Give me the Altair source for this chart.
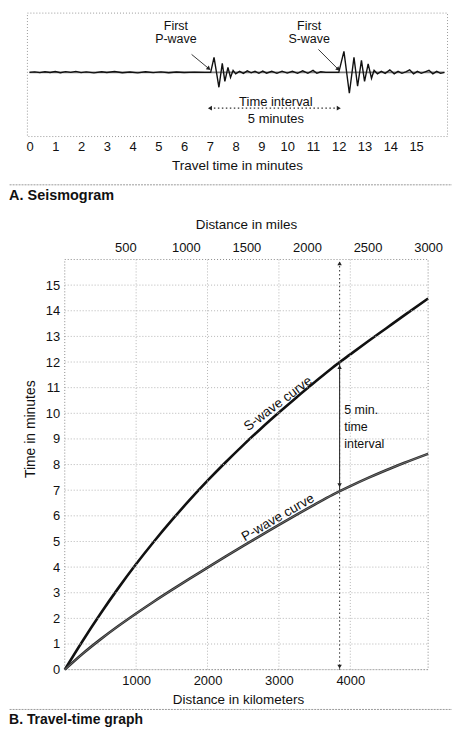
import altair as alt
import pandas as pd

FONT = "Liberation Sans"

# ---------------- Panel A: seismogram ----------------
seis_time = [0, 0.2, 0.4, 0.6, 0.8, 1.0, 1.2, 1.4, 1.6, 1.8, 2.0, 2.2, 2.5, 2.8, 3.0,
             3.3, 3.6, 3.9, 4.2, 4.5, 4.8, 5.1, 5.4, 5.7, 6.0, 6.4, 6.8, 7.03,
             7.16, 7.35, 7.48, 7.58, 7.70, 7.80, 7.90, 8.0, 8.15, 8.3, 8.45, 8.6, 8.75,
             8.9, 9.05, 9.2, 9.4, 9.6, 9.8, 10.0, 10.2, 10.4, 10.6, 10.8, 11.0, 11.15,
             11.3, 11.5, 11.8, 12.0,
             12.2, 12.41, 12.59, 12.73, 12.88, 13.0, 13.14, 13.27, 13.37, 13.5, 13.65,
             13.8, 13.98, 14.15, 14.3, 14.45, 14.6, 14.75, 14.9, 15.05, 15.2, 15.35,
             15.5, 15.65, 15.8, 15.95, 16.1]
seis_amp = [0, 0.5, -0.3, 0.6, -0.2, 0.8, -0.4, 0.7, 0, 0.9, -0.3, 0.5, -0.5, 0.6, -0.2,
            0.8, -0.4, 0.4, -0.5, 0.6, -0.3, 0.5, -0.4, 0.3, -0.2, 0.2, 0, 0,
            15, -15, 9, -9, 5, -5, 2, -1.5, 1, -1, 1.5, -0.5, 1,
            -1, 1.2, -0.8, 1, -1, 1.2, -0.8, 1, -1, 1.5, -1, 2, -1,
            0.5, 0, 0, 0,
            21, -21, 15, -14, 12, -9, 8.5, -6, 2, -1.5, 1,
            -1, 2.5, -1.5, 1, -1, 0.5, 2.5, -1.5, 1, -1, 0.5,
            2, -1.5, 1, -1, 0]
travel_ticks = list(range(0, 16))

a_labels = [["First", "P-wave"], ["First", "S-wave"]]
a_label_t = [5.68, 10.85]
a_label_amp = [43, 43]
interval_label = [["Time interval", "5 minutes"]]
interval_t = [9.56]
interval_amp = [-33.7]
pointer_t = [6.29, 11.21]
pointer_amp = [18, 23]
pointer_t2 = [6.96, 11.98]
pointer_amp2 = [3.7, 3.0]
pointer_angle = [40, 45]
p_arrival, s_arrival = 7, 12
interval_arrow_amp = -36

# ---------------- Panel B: travel-time graph ----------------
dist_km = [0, 250, 500, 750, 1000, 1250, 1500, 1750, 2000, 2250, 2500, 2750, 3000,
           3250, 3500, 3750, 4000, 4250, 4500, 4750, 5090]
s_minutes = [0, 1.12, 2.18, 3.18, 4.12, 5.00, 5.83, 6.62, 7.37, 8.08, 8.76, 9.41, 10.03,
             10.63, 11.21, 11.78, 12.30, 12.81, 13.31, 13.81, 14.48]
p_minutes = [0, 0.62, 1.18, 1.70, 2.19, 2.66, 3.11, 3.55, 3.98, 4.41, 4.83, 5.24, 5.65,
             6.05, 6.44, 6.82, 7.16, 7.48, 7.78, 8.06, 8.42]
km_ticks = [1000, 2000, 3000, 4000]
mile_ticks = [500, 1000, 1500, 2000, 2500, 3000]
minute_ticks = list(range(0, 16))
frame_km = [0, 5090]
frame_minutes = [0, 16]
station_km = 3850
s_at_station, p_at_station = 12, 7
curve_labels = ["S-wave curve", "P-wave curve"]
curve_label_km = [2987, 2987]
curve_label_t = [10.37, 5.93]
curve_label_angle = [323, 330]
interval_b_label = [["5 min.", "time", "interval"]]
interval_b_km = [3915]
interval_b_t = [9.97]

# ================= build panel A =================
A_W, A_H = 422, 124
xA_scale = alt.Scale(domain=[-0.1, 16.2], nice=False, zero=False)
yA_scale = alt.Scale(domain=[-64, 60], nice=False, zero=False)
axisA = alt.Axis(values=travel_ticks, title="Travel time in minutes",
                 domain=False, ticks=False, grid=False, format="d",
                 labelFontSize=13, labelPadding=5, labelFlush=False,
                 titleFontSize=13.5, titlePadding=5)


def xa(field):
    return alt.X(field, type="quantitative", scale=xA_scale, axis=axisA)


def ya(field):
    return alt.Y(field, type="quantitative", scale=yA_scale, axis=None)


seis_df = pd.DataFrame({"t": seis_time, "amp": seis_amp})
base_df = pd.DataFrame({"t": [seis_time[0], seis_time[-1]], "amp": [0, 0]})

baseline = alt.Chart(base_df).mark_line(color="#808080", strokeWidth=1.9).encode(
    x=xa("t"), y=ya("amp"))
seis = alt.Chart(seis_df).mark_line(color="#111", strokeWidth=1.4).encode(
    x=xa("t"), y=ya("amp"))

lab_df = pd.DataFrame({"t": a_label_t, "amp": a_label_amp, "label": a_labels})
labs = alt.Chart(lab_df).mark_text(fontSize=12.5, lineHeight=13.5, align="center",
                                   baseline="alphabetic", color="#111").encode(
    x=xa("t"), y=ya("amp"), text="label")

int_df = pd.DataFrame({"t": interval_t, "amp": interval_amp, "label": interval_label})
int_lab = alt.Chart(int_df).mark_text(fontSize=13, lineHeight=17.3, align="center",
                                      baseline="alphabetic", color="#111").encode(
    x=xa("t"), y=ya("amp"), text="label")

ptr_df = pd.DataFrame({"t": pointer_t, "amp": pointer_amp, "t2": pointer_t2,
                       "amp2": pointer_amp2, "ang": pointer_angle})
ptr = alt.Chart(ptr_df).mark_rule(color="#222", strokeWidth=0.9).encode(
    x=xa("t"), y=ya("amp"), x2="t2:Q", y2="amp2:Q")
ptr_head = alt.Chart(ptr_df).mark_point(shape="triangle-right", filled=True, size=22,
                                        color="#222", opacity=1).encode(
    x=xa("t2"), y=ya("amp2"), angle=alt.Angle("ang:Q", scale=None))

iarr_df = pd.DataFrame({"t": [p_arrival], "t2": [s_arrival], "amp": [interval_arrow_amp]})
iarr = alt.Chart(iarr_df).mark_rule(color="#333", strokeWidth=1.1, strokeDash=[1.5, 2.5]).encode(
    x=xa("t"), x2="t2:Q", y=ya("amp"))
ihead_df = pd.DataFrame({"t": [p_arrival, s_arrival], "amp": [interval_arrow_amp] * 2,
                         "shape": ["triangle-left", "triangle-right"]})
ihead = alt.Chart(ihead_df).mark_point(filled=True, size=22, color="#222", opacity=1).encode(
    x=xa("t"), y=ya("amp"), shape=alt.Shape("shape:N", scale=None, legend=None))

sepA = alt.Chart(base_df.head(1)).mark_rule(color="#9a9a9a", strokeWidth=1,
                                            strokeDash=[2, 1]).encode(
    x=alt.value(-17.4), x2=alt.value(427), y=alt.value(173))

panelA = alt.layer(baseline, seis, labs, int_lab, ptr, ptr_head, iarr, ihead, sepA).properties(
    width=A_W, height=A_H,
    title=alt.TitleParams("A. Seismogram", orient="bottom", anchor="start",
                          fontSize=14.5, fontWeight="bold", offset=4))

# ================= build panel B =================
# plot area shares its left edge with panel A; the km scale starts left of 0
B_W, B_H = 403, 412
km_scale = alt.Scale(domain=[-530, 5090], nice=False, zero=False)
mi_scale = alt.Scale(domain=[-312.3, 3000], nice=False, zero=False)
t_scale = alt.Scale(domain=[0, 16], nice=False, zero=False)
axisKm = alt.Axis(values=km_ticks, title="Distance in kilometers", orient="bottom",
                  domain=False, ticks=False, grid=False, labelFontSize=13,
                  labelPadding=5, format="d", titleFontSize=13.5, titlePadding=5,
                  titleX=212, titleAlign="center")
axisT = alt.Axis(values=minute_ticks, title="Time in minutes", domain=False,
                 ticks=False, grid=False, offset=-38,
                 labelFontSize=13, labelPadding=5, titleFontSize=14, format="d",
                 titleAngle=-90, titleX=-30, titleY=170, titleAlign="center",
                 titleBaseline="alphabetic")


def xb(field):
    return alt.X(field, type="quantitative", scale=km_scale, axis=axisKm)


def yb(field):
    return alt.Y(field, type="quantitative", scale=t_scale, axis=axisT)


hgrid_df = pd.DataFrame({"km": [frame_km[0]] * len(minute_ticks),
                         "km2": [frame_km[1]] * len(minute_ticks), "t": minute_ticks})
hgrid = alt.Chart(hgrid_df).mark_rule(color="#b5b5b5", strokeWidth=1, strokeDash=[1, 2]).encode(
    x=xb("km"), x2="km2:Q", y=yb("t"))
vgrid_df = pd.DataFrame({"km": km_ticks, "t": [frame_minutes[0]] * len(km_ticks),
                         "t2": [frame_minutes[1]] * len(km_ticks)})
vgrid = alt.Chart(vgrid_df).mark_rule(color="#b5b5b5", strokeWidth=1, strokeDash=[1, 2]).encode(
    x=xb("km"), y=yb("t"), y2="t2:Q")
frame_df = pd.DataFrame({"km": [frame_km[0]], "km2": [frame_km[1]],
                         "t": [frame_minutes[0]], "t2": [frame_minutes[1]]})
frame = alt.Chart(frame_df).mark_rect(fillOpacity=0, stroke="#8a8a8a", strokeWidth=1,
                                      strokeDash=[1, 2]).encode(
    x=xb("km"), x2="km2:Q", y=yb("t"), y2="t2:Q")

s_df = pd.DataFrame({"km": dist_km, "t": s_minutes})
p_df = pd.DataFrame({"km": dist_km, "t": p_minutes})
s_line = alt.Chart(s_df).mark_line(color="#111", strokeWidth=2.6, interpolate="monotone").encode(
    x=xb("km"), y=yb("t"))
p_line = alt.Chart(p_df).mark_line(color="#2e2e2e", strokeWidth=2.6, interpolate="monotone").encode(
    x=xb("km"), y=yb("t"))
p_line_in = alt.Chart(p_df).mark_line(color="#7a7a7a", strokeWidth=0.8, interpolate="monotone").encode(
    x=xb("km"), y=yb("t"))

st_df = pd.DataFrame({"km": [station_km], "t": [frame_minutes[0]], "t2": [frame_minutes[1]]})
st_line = alt.Chart(st_df).mark_rule(color="#444", strokeWidth=1.1, strokeDash=[1.5, 2.5]).encode(
    x=xb("km"), y=yb("t"), y2="t2:Q")
iv_df = pd.DataFrame({"km": [station_km], "t": [p_at_station], "t2": [s_at_station]})
iv_line = alt.Chart(iv_df).mark_rule(color="#333", strokeWidth=1.1).encode(
    x=xb("km"), y=yb("t"), y2="t2:Q")
heads_df = pd.DataFrame({"km": [station_km] * 4,
                         "t": [0.12, 15.85, p_at_station + 0.2, s_at_station - 0.2],
                         "shape": ["triangle-down", "triangle-up", "triangle-down", "triangle-up"]})
heads = alt.Chart(heads_df).mark_point(filled=True, size=20, color="#222", opacity=1).encode(
    x=xb("km"), y=yb("t"), shape=alt.Shape("shape:N", scale=None, legend=None))

cl_df = pd.DataFrame({"km": curve_label_km, "t": curve_label_t, "label": curve_labels,
                      "ang": curve_label_angle})
cl = alt.Chart(cl_df).mark_text(fontSize=13.5, align="center", baseline="middle",
                                color="#111").encode(
    x=xb("km"), y=yb("t"), text="label:N", angle=alt.Angle("ang:Q", scale=None))

ivl_df = pd.DataFrame({"km": interval_b_km, "t": interval_b_t, "label": interval_b_label})
ivl = alt.Chart(ivl_df).mark_text(fontSize=12.5, lineHeight=17, align="left",
                                  baseline="alphabetic", color="#111").encode(
    x=xb("km"), y=yb("t"), text="label")

sepB = alt.Chart(st_df).mark_rule(color="#9a9a9a", strokeWidth=1, strokeDash=[2, 1]).encode(
    x=alt.value(-17.4), x2=alt.value(427), y=alt.value(B_H + 40))

km_layers = alt.layer(s_line, hgrid, vgrid, frame, st_line, iv_line, heads, p_line,
                      p_line_in, cl, ivl, sepB)

mi_df = pd.DataFrame({"mi": mile_ticks, "t": [0] * len(mile_ticks)})
mi_layer = alt.Chart(mi_df).mark_point(opacity=0, size=1).encode(
    x=alt.X("mi:Q", scale=mi_scale,
            axis=alt.Axis(values=mile_ticks, title="Distance in miles", orient="top",
                          domain=False, ticks=False, grid=False, labelFontSize=13,
                          labelPadding=5.5, titleFontSize=13.5, titlePadding=10,
                          titleX=220, titleAlign="center",
                          labelFlush=False, format="d")),
    y=yb("t"))

panelB = alt.layer(km_layers, mi_layer).resolve_scale(x="independent").properties(
    width=B_W, height=B_H,
    view=alt.ViewBackground(stroke="transparent"),
    title=alt.TitleParams("B. Travel-time graph", orient="bottom", anchor="start",
                          fontSize=14, fontWeight="bold", offset=3))

chart = alt.concat(panelA, panelB, columns=1, spacing=13).properties(
    padding={"left": 0, "top": 2, "right": 0, "bottom": 0}
).configure(font=FONT).configure_view(
    stroke="#9a9a9a", strokeDash=[1, 2], strokeWidth=1
).configure_axis(
    labelFont=FONT, titleFont=FONT, labelColor="#111", titleColor="#111",
    titleFontWeight="normal"
).configure_title(font=FONT, color="#111")

chart.save("out.html", embed_options={"renderer": "svg", "actions": False})
